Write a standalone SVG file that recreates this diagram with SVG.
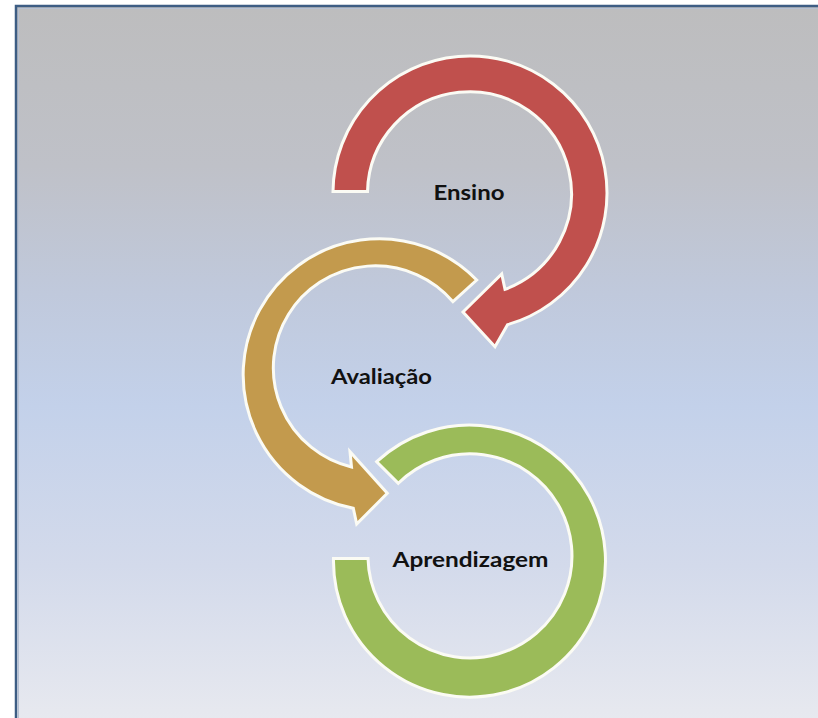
<svg xmlns="http://www.w3.org/2000/svg" width="818" height="718" viewBox="0 0 818 718">
  <defs>
    <linearGradient id="bg" x1="0" y1="0" x2="0" y2="1">
      <stop offset="0" stop-color="#bdbdbe"/>
      <stop offset="0.2" stop-color="#bfc1c8"/>
      <stop offset="0.36" stop-color="#c0c9dc"/>
      <stop offset="0.5" stop-color="#c3d1ea"/>
      <stop offset="0.7" stop-color="#d3daeb"/>
      <stop offset="0.88" stop-color="#e6e8ef"/>
      <stop offset="1" stop-color="#eeeff1"/>
    </linearGradient>
  </defs>
  <style>
    .arc { stroke: #fbfbf4; stroke-width: 3; stroke-linejoin: miter; }
    .red { fill: #c0504d; }
    .gold { fill: #c39a4d; }
    .green { fill: #9bbb59; }
    .lbl { font-family: Lato, "Open Sans", "Liberation Sans", sans-serif; font-weight: 700; font-size: 21px; fill: #111111; text-anchor: middle; }
  </style>
  <rect x="0" y="0" width="818" height="718" fill="#ffffff"/>
  <rect x="16" y="6" width="900" height="800" fill="url(#bg)" stroke="#3d5d84" stroke-width="2.5"/>
  <rect x="18.5" y="8.5" width="900" height="800" fill="none" stroke="#b6c0d2" stroke-width="1"/>

  <g id="node-ensino">
    <path class="arc red" d="M333,191.5 A137,137 0 1 1 507.5,324.7 L495,346.7 L463,312 L501.7,274 L505,289.3 A102,102 0 1 0 367.5,191.5 Z"/>
    <text class="lbl" x="469" y="200" textLength="71" lengthAdjust="spacingAndGlyphs">Ensino</text>
  </g>

  <g id="node-avaliacao">
    <path class="arc gold" d="M476.7,280 A136,136 0 1 0 353.3,508.3 L356.7,524 L387.3,493.3 L350,451.7 L351.5,467 A102,102 0 1 1 453,301.7 Z"/>
    <text class="lbl" x="381.5" y="384" textLength="101" lengthAdjust="spacingAndGlyphs">Avaliação</text>
  </g>

  <g id="node-aprendizagem">
    <path class="arc green" d="M376.7,461.7 A136,136 0 1 1 333.5,558.5 L368,558.5 A102,102 0 1 0 398.3,483.3 Z"/>
    <text class="lbl" x="470.5" y="567" textLength="156" lengthAdjust="spacingAndGlyphs">Aprendizagem</text>
  </g>

  <g id="connectors"></g>
</svg>
